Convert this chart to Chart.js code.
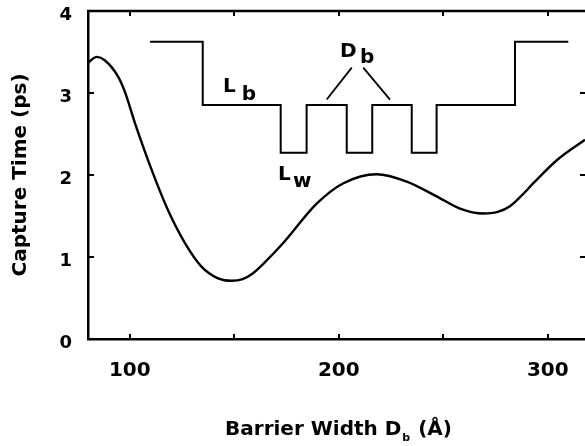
<!DOCTYPE html>
<html>
<head>
<meta charset="utf-8">
<script src="https://cdn.jsdelivr.net/npm/chart.js@4/dist/chart.umd.min.js"></script>
<style>
html,body{margin:0;padding:0;background:#fff;}
#wrap{width:585px;height:446px;}
</style>
</head>
<body>
<div id="wrap"><canvas id="c" width="585" height="446"></canvas></div>
<script>
// ---- data ----
const curveX = [80, 84.2, 88, 94.4, 97.7, 102.5, 110.5, 118.3, 126.4, 134.4, 142.2, 148.7, 154, 158.3, 164, 173.4, 189.4, 202.2, 218.1, 232.5, 246.8, 258, 269.1, 276, 281.9, 287.5, 293.1, 304.3, 317.8];
const curveY = [3.37, 3.44, 3.40, 3.20, 3.01, 2.63, 2.06, 1.57, 1.17, 0.88, 0.74, 0.71, 0.73, 0.79, 0.92, 1.17, 1.65, 1.90, 2.01, 1.92, 1.74, 1.59, 1.53, 1.55, 1.62, 1.75, 1.90, 2.18, 2.43];

// inset band-diagram (step profile): edges and levels
const bandEdgesX = [109.7, 134.9, 172.2, 184.6, 203.8, 216.0, 234.9, 246.8, 284.3, 309.8];
const bandLevelsY = [3.626, 2.854, 2.272, 2.854, 2.272, 2.854, 2.272, 2.854, 3.626, 3.626];

// D_b pointer strokes
const dbLeftX = [194.2, 206.2];
const dbLeftY = [2.92, 3.31];
const dbRightX = [211.7, 224.5];
const dbRightY = [3.31, 2.92];

const xTickLabels = [100, 200, 300];
const yTickValues = [0, 1, 2, 3, 4];

const xTitleMain = 'Barrier Width D';
const xTitleSub = 'b';
const xTitleTail = ' (Å)';
const yTitle = 'Capture Time (ps)';

const insetLabels = [
  {main: 'L', sub: 'b', x: 144.6, y: 3.01, subDx: 18.7, subDy: 8},
  {main: 'D', sub: 'b', x: 200.6, y: 3.44, subDx: 20, subDy: 6},
  {main: 'L', sub: 'w', x: 170.9, y: 1.94, subDx: 15, subDy: 7}
];

const FONT = '"DejaVu Sans", sans-serif';
const toPts = (xs, ys) => xs.map((v, i) => ({x: v, y: ys[i]}));

const decorPlugin = {
  id: 'decor',
  beforeDraw(chart) {
    const ctx = chart.ctx;
    ctx.save();
    ctx.fillStyle = '#fff';
    ctx.fillRect(0, 0, chart.width, chart.height);
    ctx.restore();
  },
  afterDatasetsDraw(chart) {
    const {ctx, chartArea: {left, right, top, bottom}, scales: {x, y}} = chart;
    ctx.save();
    ctx.strokeStyle = '#000';
    ctx.lineCap = 'butt';
    // top frame
    ctx.lineWidth = 2.5;
    ctx.beginPath();
    ctx.moveTo(left - 1, top);
    ctx.lineTo(right, top);
    ctx.stroke();
    // inward tick marks
    ctx.lineWidth = 2;
    ctx.beginPath();
    x.ticks.forEach(t => {
      const px = Math.round(x.getPixelForValue(t.value));
      ctx.moveTo(px, bottom); ctx.lineTo(px, bottom - 5);
      ctx.moveTo(px, top); ctx.lineTo(px, top + 5);
    });
    y.ticks.forEach(t => {
      if (t.value <= y.min || t.value >= y.max) return;
      const py = Math.round(y.getPixelForValue(t.value));
      ctx.moveTo(left, py); ctx.lineTo(left + 6, py);
      ctx.moveTo(right, py); ctx.lineTo(right - 5, py);
    });
    ctx.stroke();

    // inset labels
    ctx.fillStyle = '#000';
    ctx.textBaseline = 'alphabetic';
    ctx.textAlign = 'left';
    ctx.font = 'bold 20px ' + FONT;
    insetLabels.forEach(l => {
      const px = x.getPixelForValue(l.x);
      const py = y.getPixelForValue(l.y);
      ctx.fillText(l.main, px, py);
      ctx.fillText(l.sub, px + l.subDx, py + l.subDy);
    });

    // x-axis title with subscript
    const mainFont = 'bold 20px ' + FONT;
    const subFont = 'bold 11px ' + FONT;
    ctx.font = mainFont;
    const w1 = ctx.measureText(xTitleMain).width;
    const w3 = ctx.measureText(xTitleTail).width;
    ctx.font = subFont;
    const w2 = ctx.measureText(xTitleSub).width + 1;
    const total = w1 + w2 + w3;
    let sx = (left + right) / 2 + 1.5 - total / 2;
    const base = bottom + 96;
    ctx.font = mainFont;
    ctx.fillText(xTitleMain, sx, base);
    sx += w1 + 1;
    ctx.font = subFont;
    ctx.fillText(xTitleSub, sx, base + 6);
    sx += w2;
    ctx.font = mainFont;
    ctx.fillText(xTitleTail, sx, base);
    ctx.restore();
  }
};

new Chart(document.getElementById('c'), {
  type: 'line',
  data: {
    datasets: [
      {
        label: 'capture time',
        data: toPts(curveX, curveY),
        borderColor: '#000',
        borderWidth: 2.4,
        pointRadius: 0,
        cubicInterpolationMode: 'monotone',
        fill: false
      },
      {
        label: 'band profile',
        data: toPts(bandEdgesX, bandLevelsY),
        borderColor: '#000',
        borderWidth: 2,
        pointRadius: 0,
        stepped: 'before',
        borderJoinStyle: 'miter',
        fill: false
      },
      {
        label: 'db1',
        data: toPts(dbLeftX, dbLeftY),
        borderColor: '#000',
        borderWidth: 1.8,
        pointRadius: 0,
        fill: false
      },
      {
        label: 'db2',
        data: toPts(dbRightX, dbRightY),
        borderColor: '#000',
        borderWidth: 1.8,
        pointRadius: 0,
        fill: false
      }
    ]
  },
  options: {
    responsive: false,
    animation: false,
    devicePixelRatio: 1,
    layout: {padding: {top: 11, right: 0, left: 0, bottom: 0}},
    plugins: {legend: {display: false}, tooltip: {enabled: false}},
    scales: {
      x: {
        type: 'linear',
        min: 80,
        max: 317.8,
        afterFit: s => { s.height = 107; s.paddingLeft = 0; s.paddingRight = 0; },
        ticks: {
          stepSize: 50,
          includeBounds: false,
          autoSkip: false,
          maxRotation: 0,
          padding: 20,
          color: '#000',
          font: {family: FONT, size: 20, weight: 'bold'},
          callback: v => xTickLabels.includes(v) ? String(v) : ''
        },
        grid: {drawOnChartArea: false, drawTicks: false},
        border: {display: true, color: '#000', width: 2.5}
      },
      y: {
        type: 'linear',
        min: yTickValues[0],
        max: yTickValues[yTickValues.length - 1],
        afterFit: s => { s.width = 88; s.paddingTop = 0; s.paddingBottom = 0; },
        ticks: {
          stepSize: 1,
          padding: 16,
          labelOffset: 4,
          color: '#000',
          font: {family: FONT, size: 18, weight: 'bold'}
        },
        grid: {drawOnChartArea: false, drawTicks: false},
        border: {display: true, color: '#000', width: 2.5},
        title: {
          display: true,
          text: yTitle,
          color: '#000',
          padding: {top: 9, bottom: 0},
          font: {family: FONT, size: 20, weight: 'bold'}
        }
      }
    }
  },
  plugins: [decorPlugin]
});
</script>
</body>
</html>
